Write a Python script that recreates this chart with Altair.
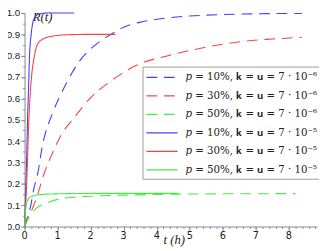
import altair as alt
import pandas as pd

pad = "\u2002\u2002\u2002"
labels = [
    "𝑝 = 10%, 𝐤 = 𝐮 = 7 · 10⁻⁶" + pad,
    "𝑝 = 30%, 𝐤 = 𝐮 = 7 · 10⁻⁶" + pad,
    "𝑝 = 50%, 𝐤 = 𝐮 = 7 · 10⁻⁶" + pad,
    "𝑝 = 10%, 𝐤 = 𝐮 = 7 · 10⁻⁵" + pad,
    "𝑝 = 30%, 𝐤 = 𝐮 = 7 · 10⁻⁵" + pad,
    "𝑝 = 50%, 𝐤 = 𝐮 = 7 · 10⁻⁵" + pad,
]
colors = ["#4040ff", "#ff4040", "#40ee40", "#4040ff", "#ff4040", "#40ee40"]
dashes = [[11, 7], [11, 7], [11, 7], [1, 0], [1, 0], [1, 0]]

# dashed, k = u = 7e-6
blue_dash_t = [0, 0.1, 0.19, 0.28, 0.4, 0.53, 0.87, 1.13, 1.31, 1.7, 2.09, 2.58, 3.07, 3.6, 4.34, 5.5, 6.6, 8.39]
blue_dash_R = [0, 0.05, 0.1, 0.177, 0.25, 0.37, 0.54, 0.63, 0.685, 0.783, 0.844, 0.897, 0.938, 0.96, 0.977, 0.99, 0.995, 0.998]
red_dash_t = [0, 0.1, 0.33, 0.62, 0.92, 1.11, 1.45, 2.04, 2.6, 3.46, 4.34, 5.5, 6.6, 7.5, 8.39]
red_dash_R = [0, 0.035, 0.12, 0.26, 0.37, 0.43, 0.5, 0.61, 0.68, 0.76, 0.80, 0.84, 0.867, 0.878, 0.886]
green_dash_t = [0, 0.1, 0.2, 0.3, 0.5, 0.75, 1.0, 1.5, 2.0, 3.0, 4.0, 5.0, 6.0, 8.2]
green_dash_R = [0, 0.035, 0.06, 0.078, 0.1, 0.115, 0.127, 0.137, 0.142, 0.147, 0.15, 0.152, 0.153, 0.154]

# solid, k = u = 7e-5
blue_solid_t = [0, 0.03, 0.06, 0.09, 0.12, 0.15, 0.2, 0.28, 0.43, 0.7, 1.0, 1.5]
blue_solid_R = [0, 0.15, 0.3, 0.5, 0.65, 0.8, 0.9, 0.97, 0.995, 1.0, 1.0, 1.0]
red_solid_t = [0, 0.04, 0.08, 0.13, 0.17, 0.21, 0.3, 0.38, 0.58, 0.9, 1.3, 2.0, 2.75]
red_solid_R = [0, 0.12, 0.27, 0.5, 0.62, 0.7, 0.8, 0.85, 0.88, 0.893, 0.898, 0.9, 0.9]
green_solid_t = [0, 0.02, 0.04, 0.08, 0.15, 0.3, 0.5, 1.0, 2.0, 3.0, 4.65]
green_solid_R = [0, 0.05, 0.09, 0.12, 0.135, 0.145, 0.15, 0.153, 0.155, 0.155, 0.155]

series_t = [blue_dash_t, red_dash_t, green_dash_t, blue_solid_t, red_solid_t, green_solid_t]
series_R = [blue_dash_R, red_dash_R, green_dash_R, blue_solid_R, red_solid_R, green_solid_R]

x_major = list(range(9))
x_tick_labels = [str(v) for v in x_major]
x_minor = [round(i * 0.2, 2) for i in range(45)]
y_major = [round(i * 0.1, 1) for i in range(11)]
y_minor = [round(i * 0.05, 2) for i in range(21)]

rows = []
for lab, ts, rs in zip(labels, series_t, series_R):
    for i, (t, r) in enumerate(zip(ts, rs)):
        rows.append({"series": lab, "t": t, "R": r, "i": i})
df = pd.DataFrame(rows)
tick_df = pd.DataFrame({"t": x_major, "label": x_tick_labels})

legend = alt.Legend(orient="none", legendX=121, legendY=55, title=None,
                    symbolType="M-1,0H3.57", symbolSize=196,
                    symbolStrokeWidth=1.2,
                    labelFont="DejaVu Serif", labelFontSize=10.5,
                    labelColor="#222", labelLimit=400,
                    strokeColor="#999", fillColor="white",
                    padding=3, labelOffset=25, rowPadding=5)

x_scale = alt.Scale(domain=[0, 8.85], nice=False, zero=True)
y_scale = alt.Scale(domain=[0, 1], nice=False)

lines = alt.Chart(df).mark_line(strokeWidth=1.1, interpolate="monotone").encode(
    x=alt.X("t:Q", scale=x_scale,
            axis=alt.Axis(values=x_major, labels=False, tickSize=4, grid=False,
                          domainColor="#888", tickColor="#888",
                          title="t (h)", titleAnchor="start", titleX=142, titleY=17,
                          titleBaseline="alphabetic",
                          titleFont="Liberation Serif", titleFontStyle="italic",
                          titleFontWeight="normal", titleFontSize=13, titleColor="#222")),
    y=alt.Y("R:Q", scale=y_scale,
            axis=alt.Axis(values=y_major, format=".1f", tickSize=4, grid=False,
                          labelOverlap=False, labelFlush=False,
                          labelFont="Liberation Sans", labelFontSize=10,
                          labelColor="#222", labelPadding=1,
                          domainColor="#888", tickColor="#888",
                          title="R(t)", titleAngle=0, titleAlign="left",
                          titleBaseline="alphabetic", titleX=8, titleY=8,
                          titleFont="Liberation Serif", titleFontStyle="italic",
                          titleFontWeight="normal", titleFontSize=13, titleColor="#222")),
    color=alt.Color("series:N", scale=alt.Scale(domain=labels, range=colors), legend=legend),
    strokeDash=alt.StrokeDash("series:N", scale=alt.Scale(domain=labels, range=dashes), legend=legend),
    order="i:Q",
)

minor = alt.Chart(df).mark_point(opacity=0).encode(
    x=alt.X("t:Q", scale=x_scale,
            axis=alt.Axis(values=x_minor, labels=False, tickSize=2, domain=False,
                          grid=False, title=None, orient="bottom", tickColor="#888")),
    y=alt.Y("R:Q", scale=y_scale,
            axis=alt.Axis(values=y_minor, labels=False, tickSize=2, domain=False,
                          grid=False, title=None, orient="left", tickColor="#888")),
)

xlabels = alt.Chart(tick_df).mark_text(
    font="DejaVu Sans", fontSize=10, fill="#222", baseline="alphabetic", align="center"
).encode(
    x=alt.X("t:Q", scale=x_scale, axis=None),
    y=alt.value(232),
    text=alt.Text("label:N"),
)

chart = alt.layer(lines, minor, xlabels).resolve_axis(x="independent", y="independent").properties(
    width=300, height=219,
    autosize=alt.AutoSizeParams(type="none"),
    padding={"left": 17, "top": 2, "right": 2, "bottom": 22},
).configure_view(stroke=None)

chart.save("out.html", embed_options={"renderer": "svg", "actions": False})
